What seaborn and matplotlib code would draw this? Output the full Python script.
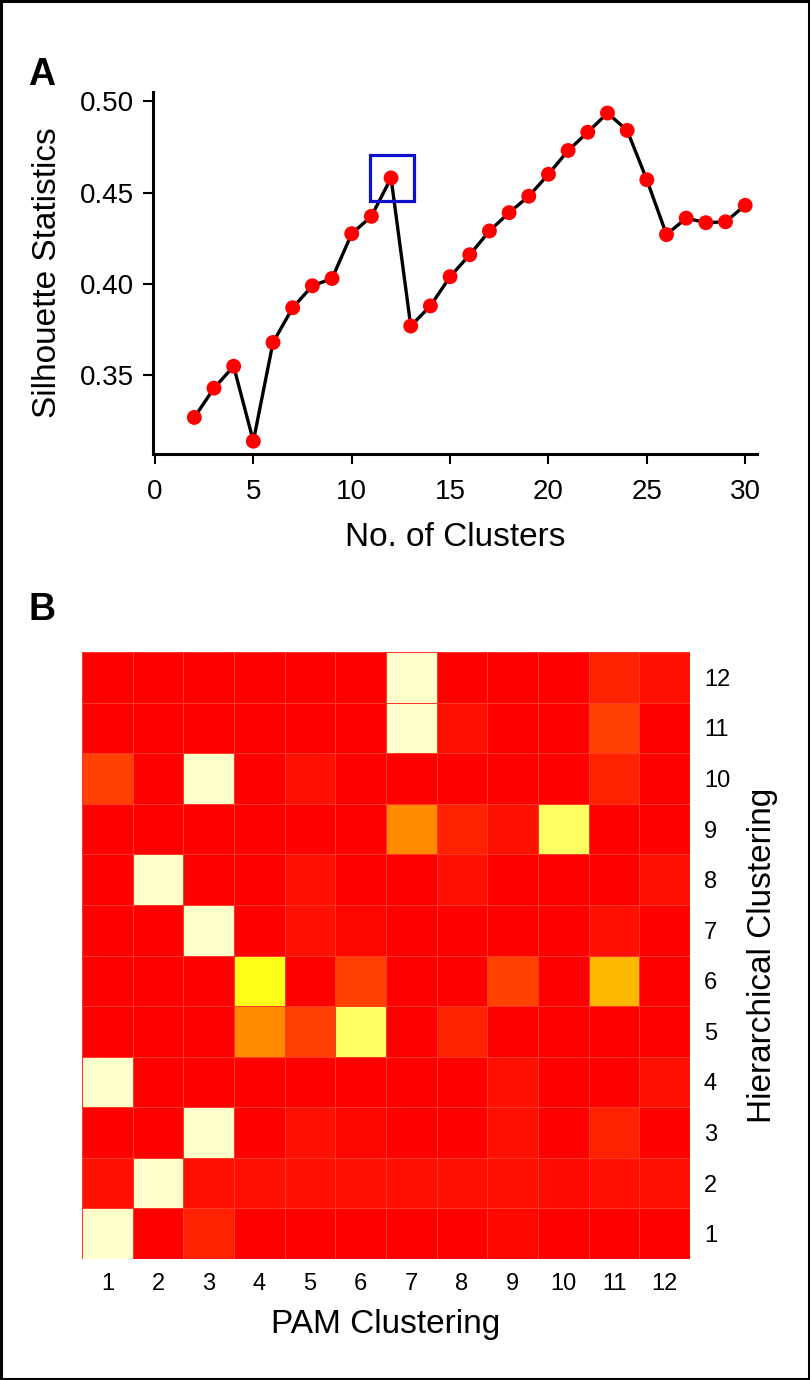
import numpy as np
import pandas as pd
import matplotlib
matplotlib.use("Agg")
import matplotlib.pyplot as plt
import seaborn as sns
from matplotlib.colors import LinearSegmentedColormap
from matplotlib.patches import Rectangle

# Panel A: silhouette statistics by number of clusters
n_clusters = list(range(2, 31))
silhouette = [0.327, 0.343, 0.355, 0.314, 0.368, 0.387, 0.399, 0.403, 0.4275, 0.437,
              0.458, 0.377, 0.388, 0.404, 0.416, 0.429, 0.439, 0.448, 0.460, 0.473,
              0.483, 0.4935, 0.484, 0.457, 0.427, 0.436, 0.4335, 0.434, 0.443]
chosen_k = 12

# Panel B: overlap between PAM and hierarchical clusters (rows listed top = 12 down to 1)
pam_labels = [str(i) for i in range(1, 13)]
hier_labels = [str(i) for i in range(12, 0, -1)]
overlap = [
    [0, 0, 0, 0, 0, 0, 1, 0, 0, 0, 0.10, 0.05],
    [0, 0, 0, 0, 0, 0, 1, 0.05, 0, 0, 0.19, 0],
    [0.19, 0, 1, 0, 0.05, 0, 0, 0, 0, 0, 0.10, 0],
    [0, 0, 0, 0, 0, 0, 0.41, 0.10, 0.05, 0.87, 0, 0],
    [0, 1, 0, 0, 0.05, 0, 0, 0.05, 0, 0, 0, 0.05],
    [0, 0, 1, 0, 0.05, 0.02, 0, 0, 0, 0, 0.05, 0],
    [0, 0, 0, 0.78, 0, 0.19, 0, 0, 0.19, 0, 0.54, 0],
    [0, 0, 0, 0.41, 0.19, 0.87, 0, 0.10, 0, 0, 0, 0],
    [1, 0, 0, 0, 0, 0, 0, 0, 0.05, 0, 0, 0.05],
    [0, 0, 1, 0, 0.05, 0.02, 0, 0, 0.05, 0, 0.10, 0],
    [0.05, 1, 0.05, 0.05, 0.05, 0.05, 0.05, 0.05, 0.05, 0.03, 0.05, 0.05],
    [1, 0, 0.10, 0, 0, 0, 0, 0, 0.02, 0, 0, 0],
]

sns.set_style("white")
plt.rcParams["font.family"] = ["Liberation Sans", "DejaVu Sans"]
plt.rcParams["text.color"] = "black"
plt.rcParams["axes.labelcolor"] = "black"
plt.rcParams["xtick.color"] = "black"
plt.rcParams["ytick.color"] = "black"

# heat.colors-like palette: red -> orange -> yellow -> cream
heat = LinearSegmentedColormap.from_list(
    "heat", [(0.0, "#ff0000"), (0.41, "#ff8c00"), (0.75, "#ffff00"), (1.0, "#ffffcc")])

fig = plt.figure(figsize=(8.1, 13.8), dpi=100)
W, H = 810, 1380

# thin black frame around the whole figure
fig.patches.append(Rectangle((0.0015, 0.001), 0.997, 0.998, transform=fig.transFigure,
                             fill=False, edgecolor="black", linewidth=2.2, zorder=10))

# ---- Panel A ----
axA = fig.add_axes([153 / W, 1 - 454 / H, (757 - 153) / W, (454 - 92) / H])
df_sil = pd.DataFrame({"k": n_clusters, "sil": silhouette})
sns.lineplot(data=df_sil, x="k", y="sil", color="black", linewidth=2.4, ax=axA)
sns.scatterplot(data=df_sil, x="k", y="sil", color="red", s=115, edgecolor="none",
                zorder=3, ax=axA)
sel = silhouette[n_clusters.index(chosen_k)]
axA.add_patch(Rectangle((chosen_k - 1.05, sel - 0.0125), 2.2, 0.025, fill=False,
                        edgecolor="#1010cc", linewidth=2.3, zorder=4))
axA.set_xlim(-0.1, 30.6)
axA.set_ylim(0.307, 0.505)
axA.set_xticks([0, 5, 10, 15, 20, 25, 30])
axA.set_yticks([0.35, 0.40, 0.45, 0.50])
axA.set_yticklabels(["0.35", "0.40", "0.45", "0.50"])
sns.despine(ax=axA)
for s in ["left", "bottom"]:
    axA.spines[s].set_linewidth(2.2)
    axA.spines[s].set_color("black")
axA.tick_params(axis="x", direction="out", length=7, width=1.5, labelsize=20,
                pad=11, bottom=True)
axA.tick_params(axis="y", direction="out", length=7, width=1.5, labelsize=20,
                pad=7, left=True)
axA.set_xlabel("No. of Clusters", fontsize=24, labelpad=12)
axA.set_ylabel("Silhouette Statistics", fontsize=24, labelpad=12)
fig.text(42 / W, 1 - 75 / H, "A", fontsize=27, fontweight="bold",
         va="center", ha="center")

# ---- Panel B ----
axB = fig.add_axes([82 / W, 1 - 1259 / H, 608 / W, 607 / H])
df_ov = pd.DataFrame(overlap, index=hier_labels, columns=pam_labels)
sns.heatmap(df_ov, cmap=heat, vmin=0, vmax=1, cbar=False, ax=axB,
            linewidths=0.4, linecolor="#ff3a2a")
axB.yaxis.tick_right()
axB.yaxis.set_label_position("right")
axB.tick_params(axis="both", length=0, labelsize=17, pad=10)
plt.setp(axB.get_yticklabels(), rotation=0)
axB.set_xlabel("PAM Clustering", fontsize=24, labelpad=10)
axB.set_ylabel("Hierarchical Clustering", fontsize=24, labelpad=12)
fig.text(42 / W, 1 - 610 / H, "B", fontsize=27, fontweight="bold",
         va="center", ha="center")

fig.savefig("out.png", dpi=100)
